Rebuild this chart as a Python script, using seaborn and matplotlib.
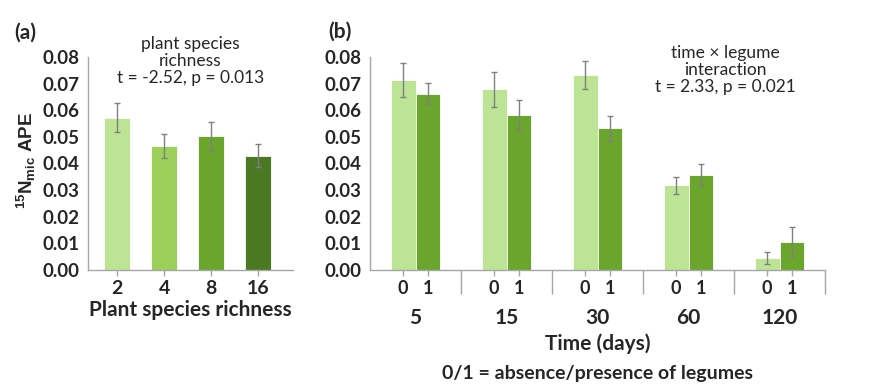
import pandas as pd
import matplotlib
matplotlib.use("Agg")
import matplotlib.pyplot as plt
import seaborn as sns

# panel (a): plant species richness
richness = ["2", "4", "8", "16"]
richness_ape = [0.0572, 0.0466, 0.0504, 0.0429]
richness_se = [0.0055, 0.0045, 0.0053, 0.0044]
richness_colors = ["#bde494", "#9bd15a", "#6aa62c", "#4a7823"]

# panel (b): time x legume presence
time_days = ["5", "15", "30", "60", "120"]
legume_levels = ["0", "1"]
ape_no_legume = [0.0713, 0.0678, 0.0732, 0.0318, 0.0045]
ape_legume = [0.0662, 0.0582, 0.0532, 0.0358, 0.0107]
se_no_legume = [0.0065, 0.0065, 0.0053, 0.0031, 0.0021]
se_legume = [0.0040, 0.0055, 0.0048, 0.0040, 0.0054]
legume_colors = ["#bde494", "#6aa62c"]

sns.set_style("white")
plt.rcParams["font.family"] = ["Lato", "DejaVu Sans"]
plt.rcParams["mathtext.fontset"] = "custom"
plt.rcParams["mathtext.rm"] = "Liberation Sans"
plt.rcParams["mathtext.bf"] = "Liberation Sans:bold"

AXIS_GREY = "#a6a6a6"
ERR_GREY = "#808080"

df_a = pd.DataFrame({"richness": richness, "ape": richness_ape, "se": richness_se})
df_b = pd.DataFrame({
    "time": time_days * 2,
    "legume": [legume_levels[0]] * len(time_days) + [legume_levels[1]] * len(time_days),
    "ape": ape_no_legume + ape_legume,
    "se": se_no_legume + se_legume,
})

fig = plt.figure(figsize=(8.84, 3.92), dpi=100)
ax1 = fig.add_axes([88 / 884, 122 / 392, 205 / 884, 213 / 392])
ax2 = fig.add_axes([370 / 884, 122 / 392, 455 / 884, 213 / 392])


def add_errorbars(ax, bars, errs):
    bars = sorted(bars, key=lambda b: b.get_x())
    xs = [b.get_x() + b.get_width() / 2 for b in bars]
    ys = [b.get_height() for b in bars]
    ax.errorbar(xs, ys, yerr=errs, fmt="none", ecolor=ERR_GREY,
                elinewidth=1, capsize=2.5, capthick=1)
    return xs


def style_axis(ax):
    sns.despine(ax=ax)
    for side in ["left", "bottom"]:
        ax.spines[side].set_color(AXIS_GREY)
        ax.spines[side].set_linewidth(1)
    ax.set_ylim(0, 0.08)
    ax.set_yticks([i / 100 for i in range(9)])
    ax.set_yticklabels([f"{i / 100:.2f}" for i in range(9)], fontweight="bold", fontsize=13.5)
    ax.tick_params(axis="y", length=0, pad=6)
    ax.set_ylabel("")


# ---- panel (a)
sns.barplot(data=df_a, x="richness", y="ape", hue="richness", order=richness,
            hue_order=richness, palette=richness_colors, legend=False,
            errorbar=None, width=0.55, saturation=1, edgecolor="white",
            linewidth=0.6, ax=ax1)
add_errorbars(ax1, ax1.patches, richness_se)
style_axis(ax1)
ax1.set_xlim(-0.62, 3.74)
ax1.tick_params(axis="x", bottom=True, length=4, width=1, color=AXIS_GREY, pad=3)
ax1.set_xticks(range(len(richness)))
ax1.set_xticklabels(richness, fontweight="bold", fontsize=14)
ax1.set_xlabel("Plant species richness", fontweight="bold", fontsize=15, labelpad=2)
ax1.text(0.5, 0.981, "plant species\nrichness\nt = -2.52, p = 0.013",
         transform=ax1.transAxes, ha="center", va="center", fontsize=12.5,
         linespacing=1.1)
fig.text(14 / 884, 1 - 33 / 392, "(a)", fontweight="bold", fontsize=15, va="center")
fig.text(26 / 884, 1 - 160 / 392, r"$\mathbf{^{15}N_{mic}}$ APE", rotation=90,
         fontfamily="Liberation Sans", fontweight="bold", fontsize=13.5,
         ha="center", va="center")

# ---- panel (b)
sns.barplot(data=df_b, x="time", y="ape", hue="legume", order=time_days,
            hue_order=legume_levels, palette=legume_colors, errorbar=None,
            width=0.54, gap=0, saturation=1, edgecolor="white", linewidth=0.6,
            ax=ax2)
ax2.get_legend().remove()
centers = []
for container, errs in zip(ax2.containers, [se_no_legume, se_legume]):
    centers += add_errorbars(ax2, list(container), errs)
style_axis(ax2)
ax2.set_xlim(-0.5, 4.5)
ax2.set_xlabel("")
# long separator ticks between time groups
ax2.set_xticks([i + 0.5 for i in range(len(time_days))])
ax2.set_xticklabels([])
ax2.tick_params(axis="x", which="major", bottom=True, length=17, width=1, color=AXIS_GREY)
# short ticks with 0/1 labels under each bar
centers = sorted(centers)
ax2.set_xticks(centers, minor=True)
ax2.set_xticklabels(legume_levels * len(time_days), minor=True,
                    fontweight="bold", fontsize=13)
ax2.tick_params(axis="x", which="minor", bottom=True, length=4, width=1,
                color=AXIS_GREY, pad=3)
# group labels
sec = ax2.secondary_xaxis("bottom")
sec.set_xticks(range(len(time_days)))
sec.set_xticklabels(time_days, fontweight="bold", fontsize=15)
sec.tick_params(axis="x", length=0, pad=27)
sec.spines["bottom"].set_visible(False)
sec.set_xlabel("Time (days)", fontweight="bold", fontsize=15, labelpad=4)
ax2.text(0.5, -0.485, "0/1 = absence/presence of legumes", transform=ax2.transAxes,
         ha="center", va="center", fontweight="bold", fontsize=14)
ax2.text(0.78, 0.939, "time \u00d7 legume\ninteraction\nt = 2.33, p = 0.021",
         transform=ax2.transAxes, ha="center", va="center", fontsize=12.5,
         linespacing=1.1)
fig.text(328 / 884, 1 - 32 / 392, "(b)", fontweight="bold", fontsize=15, va="center")

fig.savefig("out.png", dpi=100)
